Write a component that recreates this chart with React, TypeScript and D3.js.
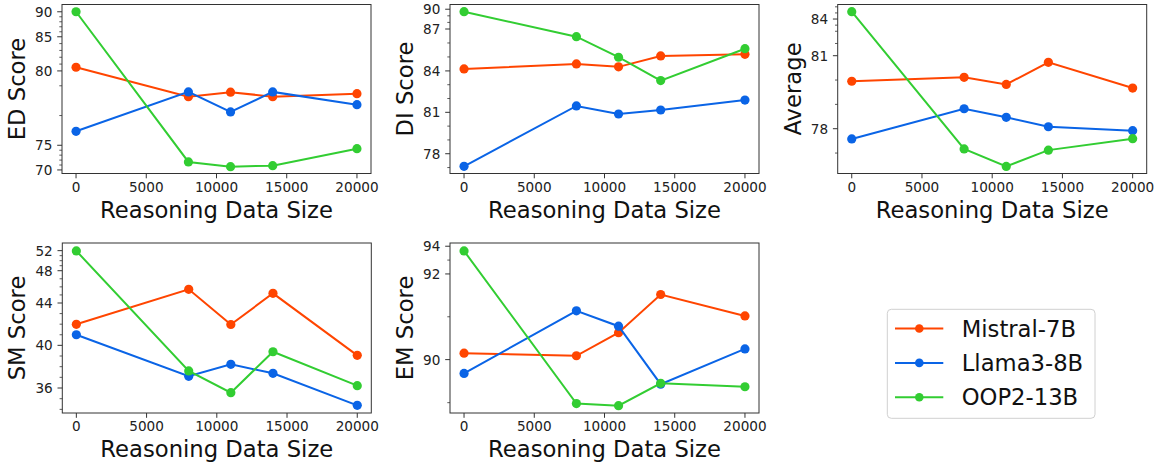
import * as d3 from "d3";

const sizes = [0, 8000, 11000, 14000, 20000];
const xTicks = [0, 5000, 10000, 15000, 20000];

const models = ["Mistral-7B", "Llama3-8B", "OOP2-13B"];
const colors = ["#FF4500", "#0A64E6", "#32CD32"];

// ED Score
const edMistral = [80.54, 78.27, 78.57, 78.27, 78.47];
const edLlama = [75.94, 78.59, 77.24, 78.59, 77.73];
const edOop = [90.0, 71.62, 70.67, 70.87, 74.31];
const edTicks = [70, 75, 80, 85, 90];
const edMinor = [71, 72, 73, 74, 77, 79, 81, 82, 83, 84, 86, 87, 88, 89];
// piecewise axis: [value, fraction of height from bottom]
const edStops: [number, number][] = [[69.29, 0], [70, 0.021], [75, 0.167], [80, 0.607], [85, 0.809], [90, 0.957], [91.44, 1]];

// DI Score
const diMistral = [84.14, 84.5, 84.29, 85.07, 85.19];
const diLlama = [77.09, 81.46, 80.88, 81.17, 81.89];
const diOop = [89.63, 86.45, 84.98, 83.3, 85.59];
const diTicks = [78, 81, 84, 87, 90];
const diMinor = [77, 79, 80, 82, 83, 85, 86, 88, 89];
const diStops: [number, number][] = [[76.57, 0], [78, 0.117], [81, 0.362], [84, 0.607], [87, 0.855], [90, 0.972], [90.73, 1]];

// Average
const avgMistral = [79.95, 80.11, 79.82, 80.73, 79.67];
const avgLlama = [77.58, 78.82, 78.47, 78.08, 77.92];
const avgOop = [84.6, 77.17, 76.45, 77.12, 77.59];
const avgTicks = [78, 81, 84];
const avgMinor = [77, 79, 80, 82, 83, 83.5, 84.5, 85];
const avgStops: [number, number][] = [[76.16, 0], [78, 0.265], [81, 0.697], [84, 0.914], [85.19, 1]];

// SM Score
const smMistral = [41.99, 45.7, 41.97, 45.2, 39.06];
const smLlama = [41.0, 37.1, 38.22, 37.38, 34.38];
const smOop = [51.94, 37.6, 35.56, 39.4, 36.22];
const smTicks = [36, 40, 44, 48, 52];
const smMinor = [34, 35, 37, 38, 39, 41, 42, 43, 45, 46, 47, 49, 50, 51];
const smStops: [number, number][] = [[33.66, 0], [36, 0.147], [40, 0.398], [44, 0.647], [48, 0.837], [52, 0.955], [53.54, 1]];

// EM Score
const emMistral = [90.15, 90.09, 90.63, 91.52, 91.02];
const emLlama = [89.68, 91.14, 90.78, 89.43, 90.25];
const emOop = [93.66, 88.98, 88.93, 89.45, 89.37];
const emTicks = [90, 92, 94];
const emMinor = [89, 91, 93];
const emStops: [number, number][] = [[88.76, 0], [90, 0.314], [92, 0.818], [94, 0.981], [94.24, 1]];

const FONT = "DejaVu Sans, sans-serif";
const W = 309;

interface PanelProps {
  left: number;
  top: number;
  height: number;
  label: string;
  series: number[][];
  ticks: number[];
  minor: number[];
  stops: [number, number][];
}

function Panel({ left, top, height, label, series, ticks, minor, stops }: PanelProps) {
  const x = d3.scaleLinear().domain([-1000, 21000]).range([0, W]);
  const y = d3
    .scaleLinear()
    .domain(stops.map((s) => s[0]))
    .range(stops.map((s) => height * (1 - s[1])));

  const line = d3
    .line<number>()
    .x((_, i) => x(sizes[i]))
    .y((d) => y(d));

  return (
    <g transform={`translate(${left},${top})`}>
      {series.map((vals, si) => (
        <g key={si}>
          <path d={line(vals)!} fill="none" stroke={colors[si]} strokeWidth={2} />
          {vals.map((v, i) => (
            <circle key={i} cx={x(sizes[i])} cy={y(v)} r={4.6} fill={colors[si]} />
          ))}
        </g>
      ))}
      <rect x={0} y={0} width={W} height={height} fill="none" stroke="#333" strokeWidth={1} />

      {/* x axis */}
      {xTicks.map((t) => (
        <g key={t}>
          <line x1={x(t)} x2={x(t)} y1={height} y2={height + 4.8} stroke="#333" />
          <text x={x(t)} y={height + 18.2} textAnchor="middle" fontSize={13.6} fill="#222">
            {t}
          </text>
        </g>
      ))}
      <text x={W / 2} y={height + 44.3} textAnchor="middle" fontSize={22.7} fill="#111">
        Reasoning Data Size
      </text>

      {/* y axis */}
      {minor.map((t) => (
        <line key={t} x1={-2.7} x2={0} y1={y(t)} y2={y(t)} stroke="#333" strokeWidth={0.8} />
      ))}
      {ticks.map((t) => (
        <g key={t}>
          <line x1={-4.8} x2={0} y1={y(t)} y2={y(t)} stroke="#333" />
          <text x={-9.6} y={y(t)} dy="0.36em" textAnchor="end" fontSize={13.6} fill="#222">
            {t}
          </text>
        </g>
      ))}
      <text
        transform={`translate(-37,${height / 2}) rotate(-90)`}
        textAnchor="middle"
        fontSize={22.7}
        fill="#111"
      >
        {label}
      </text>
    </g>
  );
}

function Legend() {
  return (
    <g>
      <rect x={887.3} y={309.3} width={207.7} height={109} rx={4} fill="#fff" stroke="#d0d0d0" strokeWidth={1} />
      {models.map((m, i) => {
        const cy = 328.5 + i * 34.4;
        return (
          <g key={m}>
            <line x1={895} x2={943.3} y1={cy} y2={cy} stroke={colors[i]} strokeWidth={2} />
            <circle cx={919.3} cy={cy} r={4.3} fill={colors[i]} />
            <text x={961.7} y={cy} dy="0.36em" fontSize={22.7} fill="#111">
              {m}
            </text>
          </g>
        );
      })}
    </g>
  );
}

export default function App() {
  return (
    <svg
      width={1158}
      height={468}
      style={{ position: "absolute", left: 0, top: 0, background: "#fff" }}
      fontFamily={FONT}
    >
      <rect width={1158} height={468} fill="#fff" />
      <Panel left={62} top={4.5} height={169} label="ED Score" series={[edMistral, edLlama, edOop]} ticks={edTicks} minor={edMinor} stops={edStops} />
      <Panel left={450} top={4.5} height={169} label="DI Score" series={[diMistral, diLlama, diOop]} ticks={diTicks} minor={diMinor} stops={diStops} />
      <Panel left={837.7} top={4.5} height={169} label="Average" series={[avgMistral, avgLlama, avgOop]} ticks={avgTicks} minor={avgMinor} stops={avgStops} />
      <Panel left={62.3} top={243} height={170} label="SM Score" series={[smMistral, smLlama, smOop]} ticks={smTicks} minor={smMinor} stops={smStops} />
      <Panel left={450} top={243} height={170} label="EM Score" series={[emMistral, emLlama, emOop]} ticks={emTicks} minor={emMinor} stops={emStops} />
      <Legend />
    </svg>
  );
}
